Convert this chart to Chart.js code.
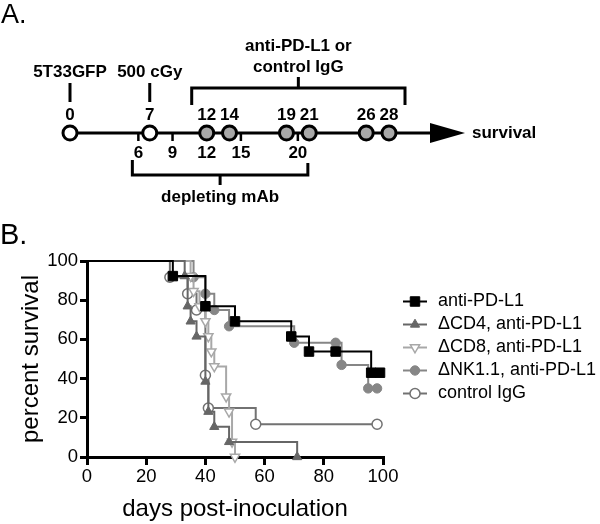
<!DOCTYPE html>
<html><head><meta charset="utf-8">
<script src="https://cdn.jsdelivr.net/npm/chart.js@4.4.0/dist/chart.umd.min.js"></script>
<style>
html,body{margin:0;padding:0;background:#fff;}
#wrap{position:relative;width:600px;height:524px;overflow:hidden;font-family:'Liberation Sans',Arial,sans-serif;}
canvas{position:absolute;left:0;}
#cA{top:0;} #cB{top:210px;}
.panel{position:absolute;color:#000;font-family:'Liberation Sans',Arial,sans-serif;white-space:nowrap;}
#lA{left:1px;top:1px;font-size:27px;line-height:27px;}
#lB{left:0px;top:220px;font-size:29px;line-height:29px;}
</style></head>
<body><div id="wrap">
<canvas id="cA" width="600" height="210"></canvas>
<canvas id="cB" width="600" height="314"></canvas>
<div class="panel" id="lA">A.</div>
<div class="panel" id="lB">B.</div>
</div>
<script>
// ---------- Panel A: schedule (days) ----------
const scheduleEventDays = [0, 7];
const scheduleEventLabels = ['5T33GFP', '500 cGy'];
const treatmentDays = [12, 14, 19, 21, 26, 28];
const treatmentLabel = ['anti-PD-L1 or', 'control IgG'];
const depletionDays = [6, 9, 12, 15, 20];
const depletionLabel = 'depleting mAb';
const endpointLabel = 'survival';

// ---------- Panel B: Kaplan-Meier survival ----------
const seriesNames = ['anti-PD-L1', '\u0394CD4, anti-PD-L1', '\u0394CD8, anti-PD-L1', '\u0394NK1.1, anti-PD-L1', 'control IgG'];
const antiPDL1Days = [0, 29, 40, 50, 69, 75, 84, 96, 99];
const antiPDL1Survival = [100, 92.3, 76.9, 69.2, 61.5, 53.8, 53.8, 43, 43];
const cd4Days = [0, 33, 34, 35, 37, 40, 41, 43, 48, 71];
const cd4Survival = [100, 92.3, 76.9, 69.2, 61.5, 38.5, 23.1, 15.4, 7.7, 0];
const cd8Days = [0, 35, 36, 38, 40, 41, 42, 43, 47, 48, 49, 50];
const cd8Survival = [100, 92.3, 84.6, 76.9, 69.2, 61.5, 53.8, 46.2, 30.8, 23.1, 7.7, 0];
const nkDays = [0, 36, 40, 43, 48, 70, 84, 86, 95, 98];
const nkSurvival = [100, 91.7, 83.3, 75, 66.7, 58.3, 58.3, 47, 35, 35];
const ctrlDays = [0, 28, 34, 37, 40, 41, 57, 98];
const ctrlSurvival = [100, 91.7, 83.3, 75, 41.7, 25, 16.7, 16.7];
const xTicks = [0, 20, 40, 60, 80, 100];
const yTicks = [0, 20, 40, 60, 80, 100];
const xTitle = 'days post-inoculation';
const yTitle = 'percent survival';

const F = "'Liberation Sans', Arial, Helvetica, sans-serif";

// ---------------- Panel A chart ----------------
function seg(ctx, x1, y1, x2, y2) { ctx.beginPath(); ctx.moveTo(x1, y1); ctx.lineTo(x2, y2); ctx.stroke(); }

const scheduleDecor = {
  id: 'scheduleDecor',
  beforeDatasetsDraw(chart) {
    const ctx = chart.ctx, xs = chart.scales.x, ys = chart.scales.y;
    const px = d => xs.getPixelForValue(d);
    const y0 = ys.getPixelForValue(0);
    const lastDay = treatmentDays[treatmentDays.length - 1];
    const arrowStart = px(lastDay) + 41, arrowTip = arrowStart + 35;
    ctx.save();
    ctx.strokeStyle = '#000'; ctx.fillStyle = '#000'; ctx.lineWidth = 3; ctx.lineCap = 'butt';
    seg(ctx, px(0), y0, arrowStart + 2, y0);
    ctx.beginPath(); ctx.moveTo(arrowStart, y0 - 10); ctx.lineTo(arrowTip, y0); ctx.lineTo(arrowStart, y0 + 10); ctx.closePath(); ctx.fill();
    ctx.lineWidth = 2.5;
    depletionDays.forEach(d => seg(ctx, px(d), y0, px(d), y0 + 8));
    ctx.font = 'bold 17px ' + F; ctx.textAlign = 'center'; ctx.textBaseline = 'middle';
    depletionDays.forEach(d => ctx.fillText(String(d), px(d), y0 + 20));
    scheduleEventDays.concat(treatmentDays).forEach(d => ctx.fillText(String(d), px(d), y0 - 18));
    ctx.lineWidth = 3;
    scheduleEventDays.forEach((d, i) => { seg(ctx, px(d), y0 - 50, px(d), y0 - 31); ctx.fillText(scheduleEventLabels[i], px(d), y0 - 61); });
    const tL = px(treatmentDays[0]) - 15, tR = px(lastDay) + 16, tM = (tL + tR) / 2;
    ctx.beginPath(); ctx.moveTo(tL, y0 - 28); ctx.lineTo(tL, y0 - 45); ctx.lineTo(tR, y0 - 45); ctx.lineTo(tR, y0 - 28); ctx.stroke();
    seg(ctx, tM, y0 - 45, tM, y0 - 56);
    ctx.fillText(treatmentLabel[0], tM, y0 - 87);
    ctx.fillText(treatmentLabel[1], tM, y0 - 66);
    const dL = px(depletionDays[0]) - 6, dR = px(depletionDays[depletionDays.length - 1]) + 10, dM = (dL + dR) / 2;
    ctx.beginPath(); ctx.moveTo(dL, y0 + 27); ctx.lineTo(dL, y0 + 42); ctx.lineTo(dR, y0 + 42); ctx.lineTo(dR, y0 + 30); ctx.stroke();
    seg(ctx, dM, y0 + 42, dM, y0 + 52);
    ctx.fillText(depletionLabel, dM, y0 + 64);
    ctx.textAlign = 'left';
    ctx.fillText(endpointLabel, arrowTip + 7, y0);
    ctx.restore();
  }
};

new Chart(document.getElementById('cA'), {
  type: 'scatter',
  data: {
    datasets: [
      { label: 'treatment', data: treatmentDays.map(d => ({ x: d, y: 0 })), pointRadius: 7, pointBackgroundColor: '#a8a8a8', pointBorderColor: '#000', pointBorderWidth: 3, showLine: false, clip: false },
      { label: 'events', data: scheduleEventDays.map(d => ({ x: d, y: 0 })), pointRadius: 7, pointBackgroundColor: '#fff', pointBorderColor: '#000', pointBorderWidth: 3, showLine: false, clip: false }
    ]
  },
  options: {
    responsive: false, animation: false, devicePixelRatio: 1, events: [],
    layout: { padding: { left: 70, right: 211, top: 83, bottom: 27 } },
    scales: {
      x: { type: 'linear', min: 0, max: 28, display: false },
      y: { type: 'linear', min: -1, max: 1, display: false }
    },
    plugins: { legend: { display: false }, tooltip: { enabled: false } }
  },
  plugins: [scheduleDecor]
});

// ---------------- Panel B chart ----------------
const markerStyles = [
  { color: '#000000', pointStyle: 'rect', rotation: 0, radius: 6.7, fill: '#000000', bw: 1, lw: 2 },
  { color: '#666666', pointStyle: 'triangle', rotation: 0, radius: 5.3, fill: '#666666', bw: 1, lw: 2 },
  { color: '#a8a8a8', pointStyle: 'triangle', rotation: 180, radius: 5.3, fill: '#ffffff', bw: 1.5, lw: 2 },
  { color: '#868686', pointStyle: 'circle', rotation: 0, radius: 4.7, fill: '#868686', bw: 1, lw: 2 },
  { color: '#727272', pointStyle: 'circle', rotation: 0, radius: 5, fill: '#ffffff', bw: 1.5, lw: 2 }
];
const seriesDays = [antiPDL1Days, cd4Days, cd8Days, nkDays, ctrlDays];
const seriesSurv = [antiPDL1Survival, cd4Survival, cd8Survival, nkSurvival, ctrlSurvival];

const datasets = seriesNames.map((name, i) => {
  const s = markerStyles[i];
  return {
    label: name,
    data: seriesDays[i].map((d, j) => ({ x: d, y: seriesSurv[i][j] })),
    stepped: true,
    borderColor: s.color, borderWidth: s.lw, fill: false, tension: 0,
    pointStyle: s.pointStyle, pointRotation: s.rotation,
    pointRadius: c => (c.dataIndex === 0 ? 0 : s.radius),
    pointBackgroundColor: s.fill, pointBorderColor: s.color, pointBorderWidth: s.bw,
    clip: false
  };
});

function fallbackPoint(ctx, o, x, y) {
  const r = o.radius;
  ctx.beginPath();
  if (o.pointStyle === 'rect') { const h = r * Math.SQRT1_2; ctx.rect(x - h, y - h, 2 * h, 2 * h); }
  else if (o.pointStyle === 'triangle') {
    let a = (o.rotation || 0) * Math.PI / 180;
    for (let k = 0; k < 3; k++) { const px = x + Math.sin(a) * r, py = y - Math.cos(a) * r; k ? ctx.lineTo(px, py) : ctx.moveTo(px, py); a += 2 * Math.PI / 3; }
    ctx.closePath();
  } else { ctx.arc(x, y, r, 0, Math.PI * 2); }
  ctx.fill(); if (o.borderWidth > 0) ctx.stroke();
}

const kmLegend = {
  id: 'kmLegend',
  afterDraw(chart) {
    const ctx = chart.ctx;
    const x0 = chart.chartArea.right + 20, x1 = x0 + 24, xm = (x0 + x1) / 2, xt = x1 + 11;
    const yStart = chart.chartArea.top + 40.5, dy = 23;
    chart.data.datasets.forEach((ds, i) => {
      const s = markerStyles[i];
      const y = yStart + i * dy;
      ctx.save();
      ctx.strokeStyle = s.color; ctx.lineWidth = s.lw;
      seg(ctx, x0, y, x1, y);
      ctx.fillStyle = s.fill; ctx.strokeStyle = s.color; ctx.lineWidth = s.bw;
      const opts = { pointStyle: s.pointStyle, rotation: s.rotation, radius: s.radius, borderWidth: s.bw };
      if (Chart.helpers && Chart.helpers.drawPoint) Chart.helpers.drawPoint(ctx, opts, xm, y); else fallbackPoint(ctx, opts, xm, y);
      ctx.fillStyle = '#000'; ctx.font = '18px ' + F; ctx.textAlign = 'left'; ctx.textBaseline = 'middle';
      ctx.fillText(ds.label, xt, y);
      ctx.restore();
    });
  }
};

new Chart(document.getElementById('cB'), {
  type: 'line',
  data: { datasets },
  options: {
    responsive: false, animation: false, devicePixelRatio: 1, events: [],
    layout: { padding: { left: 0, right: 217, top: 51, bottom: 0 } },
    scales: {
      x: {
        type: 'linear', min: xTicks[0], max: xTicks[xTicks.length - 1],
        afterBuildTicks: sc => { sc.ticks = xTicks.map(v => ({ value: v })); },
        afterFit: sc => { sc.height = 67; },
        ticks: { color: '#000', font: { family: F, size: 18.5 }, padding: 1, maxRotation: 0 },
        grid: { display: true, drawOnChartArea: false, drawTicks: true, tickLength: 8, color: '#000', lineWidth: 3 },
        border: { display: true, color: '#000', width: 3 },
        title: { display: true, text: xTitle, color: '#000', font: { family: F, size: 24 }, padding: { top: 0, bottom: 0 } }
      },
      y: {
        type: 'linear', min: yTicks[0], max: yTicks[yTicks.length - 1],
        afterBuildTicks: sc => { sc.ticks = yTicks.map(v => ({ value: v })); },
        afterFit: sc => { sc.width = 87; },
        ticks: { color: '#000', font: { family: F, size: 18.5 }, padding: 2 },
        grid: { display: true, drawOnChartArea: false, drawTicks: true, tickLength: 7, color: '#000', lineWidth: 3 },
        border: { display: true, color: '#000', width: 3 },
        title: { display: true, text: yTitle, color: '#000', font: { family: F, size: 24 }, padding: { top: 17, bottom: 0 } }
      }
    },
    plugins: { legend: { display: false }, tooltip: { enabled: false } }
  },
  plugins: [kmLegend]
});
</script>
</body></html>
